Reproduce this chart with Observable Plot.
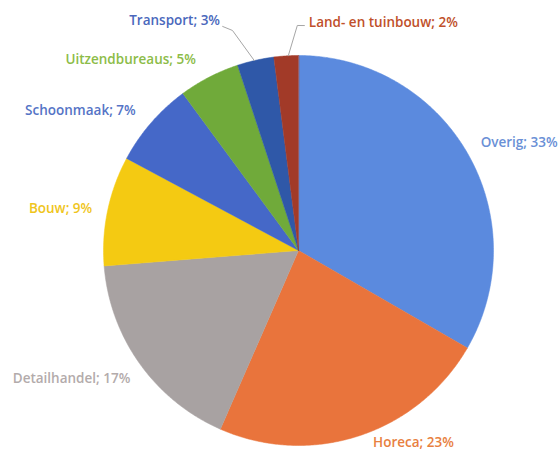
<!DOCTYPE html>
<html>
<head>
<meta charset="utf-8">
<script src="https://cdn.jsdelivr.net/npm/d3@7"></script>
<script src="https://cdn.jsdelivr.net/npm/@observablehq/plot@0.6"></script>
<style>
  html, body { margin: 0; padding: 0; background: #ffffff; }
  #chart svg { display: block; }
</style>
</head>
<body>
<div id="chart"></div>
<script>
// ---- data ----
const categories = ["Overig", "Horeca", "Detailhandel", "Bouw", "Schoonmaak", "Uitzendbureaus", "Transport", "Land- en tuinbouw"];
const shares = [33, 23, 17, 9, 7, 5, 3, 2];

// ---- styles ----
const sliceColors = ["#5b8ade", "#e9743c", "#a8a2a2", "#f4ca12", "#4568c8", "#70aa3a", "#2f58a8", "#a23a28"];
const labelColors = ["#6a90d6", "#e8803f", "#b3abab", "#efc51c", "#5574c6", "#8cbc48", "#4a68bc", "#c0502b"];

// label layout (polar: angle in degrees clockwise from top, radius in pie radii)
const labelAngle = [63.9, 149.1, 240.6, 280.0, 302.7, 318.7, 331.7, 20.4];
const labelRadius = [1.26, 1.148, 1.336, 1.239, 1.329, 1.304, 1.34, 1.248];
// leader lines (only for the two small top slices)
const leaderLayout = [
  {cat: "Transport", pts: [[346.9, 1.0], [343.3, 1.178], [341.3, 1.213]]},
  {cat: "Land- en tuinbouw", pts: [[357.0, 1.0], [359.7, 1.154], [1.5, 1.154]]}
];

// ---- geometry ----
const W = 559, H = 455;
const cx = 298, cy = 250, R = 195; // pixel center & radius
const xDomain = [-cx / R, (W - cx) / R];
const yDomain = [-(H - cy) / R, cy / R];

const polar = (deg, r) => {
  const a = deg * Math.PI / 180;
  return [r * Math.sin(a), r * Math.cos(a)];
};

const arcs = d3.pie().sort(null).value(d => d)(shares);
const slicePts = [];
arcs.forEach((a, i) => {
  const s = a.startAngle * 180 / Math.PI, e = a.endAngle * 180 / Math.PI;
  slicePts.push({cat: categories[i], color: sliceColors[i], x: 0, y: 0});
  const n = Math.max(2, Math.ceil((e - s) / 0.5));
  for (let k = 0; k <= n; k++) {
    const [x, y] = polar(s + (e - s) * k / n, 1);
    slicePts.push({cat: categories[i], color: sliceColors[i], x, y});
  }
});

const labels = categories.map((c, i) => {
  const [x, y] = polar(labelAngle[i], labelRadius[i]);
  return {text: `${c}; ${shares[i]}%`, color: labelColors[i], x, y};
});

const leaderPts = [];
leaderLayout.forEach(l => l.pts.forEach(([d, r]) => {
  const [x, y] = polar(d, r);
  leaderPts.push({cat: l.cat, x, y});
}));

const chart = Plot.plot({
  width: W,
  height: H,
  margin: 0,
  x: {domain: xDomain, axis: null},
  y: {domain: yDomain, axis: null},
  color: {type: "identity"},
  style: {fontFamily: "'Open Sans', sans-serif", background: "#ffffff"},
  marks: [
    Plot.line(slicePts, {x: "x", y: "y", z: "cat", fill: "color", stroke: "color", strokeWidth: 0.5, curve: "linear-closed"}),
    Plot.line(leaderPts, {x: "x", y: "y", z: "cat", stroke: "#a6a6a6", strokeWidth: 1}),
    Plot.text(labels, {x: "x", y: "y", text: "text", fill: "color", fontSize: 13.5, fontWeight: 600, textAnchor: "middle"})
  ]
});
document.getElementById("chart").appendChild(chart);
</script>
</body>
</html>
